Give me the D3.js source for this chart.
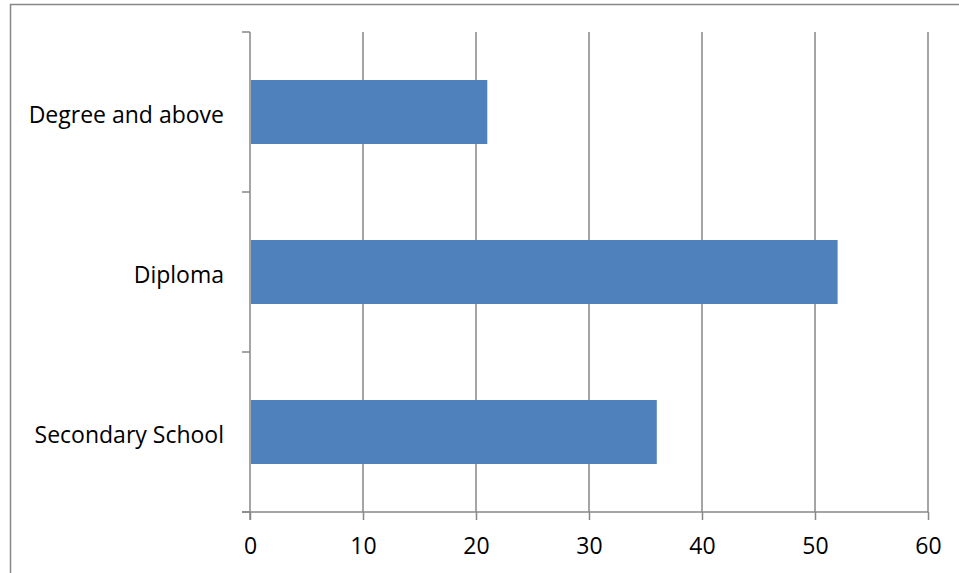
<!DOCTYPE html>
<html>
<head>
<meta charset="utf-8">
<script src="https://cdn.jsdelivr.net/npm/d3@7"></script>
<style>
  html, body { margin: 0; padding: 0; background: #fff; }
  svg { display: block; }
  text { font-family: "Open Sans", "Liberation Sans", sans-serif; fill: #000; }
</style>
</head>
<body>
<script>
// Education level counts
const categories = ["Degree and above", "Diploma", "Secondary School"];
const values = [21, 52, 36];
const xTicks = [0, 10, 20, 30, 40, 50, 60];

const W = 959, H = 573;
const plot = { left: 250, right: 928, top: 32, bottom: 512 };
const gridColor = "#878787";
const barColor = "#4f81bd";
const fontSize = 23;

const svg = d3.select("body").append("svg")
  .attr("width", W).attr("height", H);

// chart area frame
svg.append("rect")
  .attr("x", 10.5).attr("y", 4.5)
  .attr("width", 1000).attr("height", 1000)
  .attr("fill", "none")
  .attr("stroke", gridColor)
  .attr("stroke-width", 1.5);

const x = d3.scaleLinear().domain([0, 60]).range([plot.left, plot.right]);
const y = d3.scaleBand().domain(categories)
  .range([plot.top, plot.bottom])
  .paddingInner(0.6).paddingOuter(0.3);

// vertical gridlines
svg.append("g").selectAll("line")
  .data(xTicks.filter(d => d > 0))
  .join("line")
  .attr("x1", d => x(d)).attr("x2", d => x(d))
  .attr("y1", plot.top).attr("y2", plot.bottom)
  .attr("stroke", gridColor).attr("stroke-width", 1.5);

// bars
svg.append("g").selectAll("rect")
  .data(categories)
  .join("rect")
  .attr("x", x(0) + 1)
  .attr("y", d => y(d))
  .attr("width", (d, i) => x(values[i]) - x(0) - 1)
  .attr("height", y.bandwidth())
  .attr("fill", barColor);

// x axis
const xAxis = d3.axisBottom(x).tickValues(xTicks).tickSize(8).tickPadding(18);
const gx = svg.append("g")
  .attr("transform", `translate(0,${plot.bottom})`)
  .call(xAxis);
gx.select(".domain").remove();
gx.append("line")
  .attr("x1", plot.left - 8).attr("x2", plot.right)
  .attr("y1", 0).attr("y2", 0)
  .attr("stroke", gridColor).attr("stroke-width", 1.5);
gx.selectAll(".tick line").attr("stroke", gridColor).attr("stroke-width", 1.5);
gx.selectAll(".tick text")
  .attr("font-size", fontSize)
  .attr("fill", "#000")
  .attr("font-family", "Open Sans, Liberation Sans, sans-serif")
  .attr("dy", "0.68em");

// y axis: line with boundary ticks between categories
const yBoundaries = [plot.top].concat(categories.map(c => y(c) + y.bandwidth() + y.step() * 0.3));
const gy = svg.append("g");
gy.append("line")
  .attr("x1", plot.left).attr("x2", plot.left)
  .attr("y1", plot.top).attr("y2", plot.bottom + 8)
  .attr("stroke", gridColor).attr("stroke-width", 1.5);
gy.selectAll("line.bt")
  .data(yBoundaries)
  .join("line")
  .attr("class", "bt")
  .attr("x1", plot.left - 8).attr("x2", plot.left)
  .attr("y1", d => d).attr("y2", d => d)
  .attr("stroke", gridColor).attr("stroke-width", 1.5);

// category labels
gy.selectAll("text")
  .data(categories)
  .join("text")
  .attr("x", plot.left - 26)
  .attr("y", d => y(d) + y.bandwidth() / 2)
  .attr("dy", "0.48em")
  .attr("text-anchor", "end")
  .attr("font-size", fontSize)
  .text(d => d);
</script>
</body>
</html>
